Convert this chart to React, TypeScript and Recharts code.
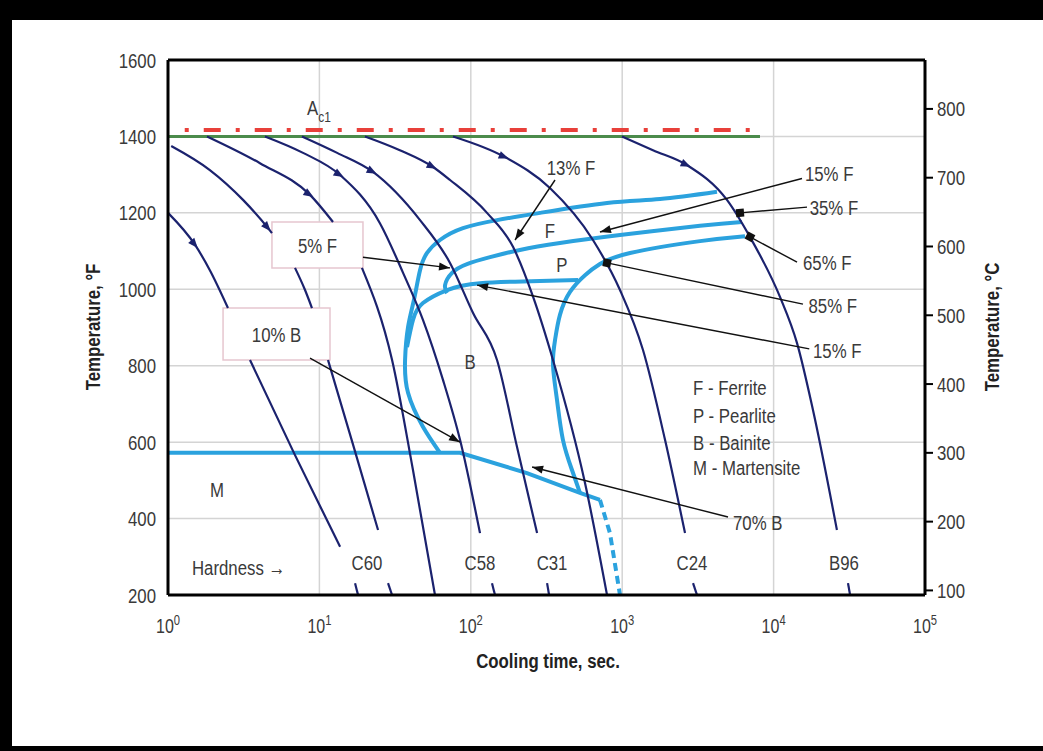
import React from 'react';
import {
  ComposedChart,
  Line,
  XAxis,
  YAxis,
  CartesianGrid,
  ReferenceLine,
  ReferenceArea,
  ReferenceDot,
} from 'recharts';

type P = [number, number];

const SANS = "'Liberation Sans', Arial, Helvetica, sans-serif";
const NAVY = '#1b226e';
const BLUE = '#2ba2de';
const INK = '#3a3a3a';

// ---- axes ----
const timeTicks = [1, 10, 100, 1000, 10000, 100000];
const tempFTicks = [200, 400, 600, 800, 1000, 1200, 1400, 1600];
const tempCTicks = [100, 200, 300, 400, 500, 600, 700, 800];

// ---- cooling curves (time s, temperature °F), split where hidden by boxes / labels ----
const coolA: P[][] = [
  [[1, 1200], [1.51, 1116], [1.89, 1050], [2.49, 951]],
  [[3.48, 815], [6.9, 566], [13.7, 326]],
  [[17.2, 231], [18, 200]],
];
const coolB: P[][] = [
  [[1.05, 1375], [1.89, 1312], [3.13, 1234], [4.58, 1160], [4.86, 1147]],
  [[6.9, 1056], [8.0, 1000], [8.93, 951]],
  [[11.4, 815], [16.7, 593], [24.4, 370]],
  [[28.4, 231], [30.2, 200]],
];
const coolC: P[][] = [
  [[1.81, 1400], [4.05, 1330], [8.67, 1247], [12.3, 1176]],
  [[19.1, 1056], [30.2, 815], [41.5, 527], [58, 200]],
];
const coolD: P[][] = [
  [[4.37, 1400], [7.8, 1357], [13.7, 1299], [25.1, 1173], [35.7, 1043], [48.3, 920], [65.5, 763], [84.9, 606], [115, 362]],
  [[138, 231], [144.5, 200]],
];
const coolE: P[][] = [
  [[7.67, 1400], [13.1, 1357], [22.6, 1307], [46.2, 1181], [72.9, 1069], [103.5, 938], [149, 815], [202, 587], [274, 362]],
  [[319, 231], [329, 200]],
];
const coolF: P[][] = [
  [[20, 1400], [34, 1364], [56.3, 1320], [72.9, 1286], [128, 1200], [190, 1111], [258, 980], [349, 815], [568, 493], [794, 200]],
];
const coolG: P[][] = [
  [[76.3, 1400], [168, 1346], [333, 1265], [641, 1129], [967, 998], [1372, 841], [1918, 606], [2600, 362]],
  [[2937, 231], [3120, 200]],
];
const coolH: P[][] = [
  [[997, 1400], [1597, 1364], [2680, 1325], [4920, 1234], [6980, 1137], [11020, 980], [14280, 859], [18200, 684], [26200, 370]],
  [[31000, 231], [32000, 200]],
];
const coolingCurves = [coolA, coolB, coolC, coolD, coolE, coolF, coolG, coolH];

// direction arrows on the cooling curves (from -> to, arrow at "to")
const flowArrows: [P, P][] = [
  [[1, 1200], [1.51, 1116]],
  [[3.13, 1234], [4.58, 1160]],
  [[4.05, 1330], [8.67, 1247]],
  [[7.8, 1357], [13.7, 1299]],
  [[13.1, 1357], [22.6, 1307]],
  [[34, 1364], [56.3, 1320]],
  [[76.3, 1400], [168, 1346]],
  [[1597, 1364], [2680, 1325]],
];

// ---- transformation curves ----
const msLine: P[] = [[1, 572], [84.9, 572], [235, 519], [526, 467], [713, 449]];
const msDashed: P[] = [[713, 449], [830, 362], [967, 200]];
const ferriteStart: P[] = [
  [4227, 1255], [1778, 1236], [794, 1226], [286, 1200], [149, 1181], [88.8, 1160], [62.6, 1129], [51.4, 1095],
  [46.2, 1050], [42.1, 972], [38.5, 901], [36.8, 815], [38.5, 729], [48.3, 640], [62.6, 572],
];
const pearliteStart: P[] = [
  [6180, 1176], [3266, 1166], [967, 1142], [388, 1121], [211, 1103], [134, 1084], [94.4, 1066], [75.2, 1043], [67.6, 1011], [69.7, 990],
];
const pearliteLow: P[] = [[511, 1024], [286, 1022], [115, 1016], [69.7, 998], [48.3, 964], [41.5, 920], [37.9, 849]];
const pearliteFinish: P[] = [
  [6470, 1139], [3266, 1126], [1127, 1095], [713, 1066], [568, 1037], [452, 993], [388, 933], [360, 867], [349, 802],
  [371, 710], [406, 606], [466, 527], [526, 467],
];

// Ac1 and 1400 °F lines
const ac1Line: P[] = [[1.29, 1417], [8130, 1417]];
const austLine: P[] = [[1, 1400], [8130, 1400]];

// ---- annotations ----
const pointers: { from: P; to: P; end: 'arrow' | 'dot' }[] = [
  { from: [360, 1286], to: [196, 1129], end: 'arrow' },
  { from: [15400, 1290], to: [713, 1150], end: 'arrow' },
  { from: [16630, 1215], to: [6000, 1200], end: 'dot' },
  { from: [14280, 1071], to: [6980, 1137], end: 'dot' },
  { from: [15630, 961], to: [794, 1069], end: 'dot' },
  { from: [17200, 844], to: [110, 1011], end: 'arrow' },
  { from: [19.4, 1084], to: [72.9, 1056], end: 'arrow' },
  { from: [8.67, 820], to: [84.9, 600], end: 'arrow' },
  { from: [5000, 404], to: [254, 535], end: 'arrow' },
];
const notes: { s: string; at: P; anchor: string }[] = [
  { s: '13% F', at: [459, 1320], anchor: 'middle' },
  { s: '15% F', at: [16110, 1304], anchor: 'start' },
  { s: '35% F', at: [17300, 1215], anchor: 'start' },
  { s: '65% F', at: [15630, 1071], anchor: 'start' },
  { s: '85% F', at: [17000, 959], anchor: 'start' },
  { s: '15% F', at: [18200, 841], anchor: 'start' },
  { s: '70% B', at: [5390, 391], anchor: 'start' },
  { s: 'F', at: [333, 1155], anchor: 'middle' },
  { s: 'P', at: [400, 1064], anchor: 'middle' },
  { s: 'B', at: [98.8, 810], anchor: 'middle' },
  { s: 'M', at: [2.11, 475], anchor: 'middle' },
  { s: 'F  - Ferrite', at: [2937, 744], anchor: 'start' },
  { s: 'P  - Pearlite', at: [2937, 671], anchor: 'start' },
  { s: 'B  - Bainite', at: [2937, 600], anchor: 'start' },
  { s: 'M - Martensite', at: [2937, 535], anchor: 'start' },
  { s: 'Hardness \u2192', at: [1.44, 271], anchor: 'start' },
  { s: 'C60', at: [20.6, 286], anchor: 'middle' },
  { s: 'C58', at: [115, 286], anchor: 'middle' },
  { s: 'C31', at: [344, 286], anchor: 'middle' },
  { s: 'C24', at: [2891, 286], anchor: 'middle' },
  { s: 'B96', at: [29170, 286], anchor: 'middle' },
];
const boxes: { s: string; x: P; y: P }[] = [
  { s: '5% F', x: [4.86, 19.4], y: [1056, 1176] },
  { s: '10% B', x: [2.31, 11.75], y: [815, 951] },
];
const ac1Label: P = [8.28, 1477];

// ---- helpers ----
const rows = (pts: P[]) => pts.map(([t, T]) => ({ t, T }));

// narrow (condensed) text: regular sans squeezed horizontally
const NT = (props: {
  x: number; y: number; anchor?: string; size?: number; bold?: boolean; rotate?: number; fill?: string; children: React.ReactNode;
}) => {
  const { x, y, anchor = 'start', size = 21, bold = false, rotate = 0, fill = INK, children } = props;
  return (
    <g transform={`translate(${x},${y})${rotate ? ` rotate(${rotate})` : ''} scale(0.8,1)`}>
      <text x={0} y={0} dy="0.36em" textAnchor={anchor as any} fontSize={size} fontWeight={bold ? 'bold' : 'normal'} fontFamily={SANS} fill={fill}>
        {children}
      </text>
    </g>
  );
};

const arrowHead = (x: number, y: number, ang: number, len: number, half: number, fill: string) => {
  const bx = x - len * Math.cos(ang);
  const by = y - len * Math.sin(ang);
  const px = -Math.sin(ang) * half;
  const py = Math.cos(ang) * half;
  return <polygon points={`${x},${y} ${bx + px},${by + py} ${bx - px},${by - py}`} fill={fill} />;
};

const pointerShape = (end: 'arrow' | 'dot') => (p: any) => {
  const { x1, y1, x2, y2 } = p;
  const ang = Math.atan2(y2 - y1, x2 - x1);
  return (
    <g>
      <line x1={x1} y1={y1} x2={x2} y2={y2} stroke="#111" strokeWidth={1.4} />
      {end === 'arrow'
        ? arrowHead(x2, y2, ang, 11, 4, '#111')
        : <rect x={x2 - 4} y={y2 - 4} width={8} height={8} fill="#111" transform={`rotate(${(ang * 180) / Math.PI} ${x2} ${y2})`} />}
    </g>
  );
};

const flowShape = (p: any) => {
  const { x1, y1, x2, y2 } = p;
  const ang = Math.atan2(y2 - y1, x2 - x1);
  return arrowHead(x2 + 4 * Math.cos(ang), y2 + 4 * Math.sin(ang), ang, 10, 4, NAVY);
};

const textShape = (s: string, anchor: string) => (p: any) => (
  <NT x={p.cx} y={p.cy} anchor={anchor}>{s}</NT>
);

const TimeTick = (props: any) => {
  const { x, y, payload } = props;
  const n = Math.round(Math.log10(payload.value));
  return (
    <NT x={x} y={y + 31} anchor="middle" size={20}>
      10<tspan dy={-8} fontSize={14}>{n}</tspan>
    </NT>
  );
};
const LeftTick = (props: any) => <NT x={props.x} y={props.y} anchor="end">{props.payload.value}</NT>;
const RightTick = (props: any) => <NT x={props.x} y={props.y} anchor="start">{props.payload.value}</NT>;

export default function App() {
  return (
    <div style={{ position: 'absolute', left: 0, top: 0, width: 1043, height: 751, background: '#fff', overflow: 'hidden' }}>
      <ComposedChart width={1043} height={751} margin={{ top: 60, right: 58, bottom: 126, left: 108 }}>
        <CartesianGrid stroke="#d4d4d4" strokeWidth={1.5} />
        <XAxis
          dataKey="t"
          type="number"
          scale="log"
          domain={[1, 100000]}
          ticks={timeTicks}
          allowDataOverflow
          interval={0}
          height={30}
          axisLine={{ stroke: '#000', strokeWidth: 3 }}
          tickLine={false}
          tickSize={0}
          tickMargin={0}
          tick={<TimeTick />}
          label={() => (
            <NT x={548} y={660} anchor="middle" bold fill="#222">Cooling time, sec.</NT>
          )}
        />
        <YAxis
          type="number"
          domain={[200, 1600]}
          ticks={tempFTicks}
          allowDataOverflow
          interval={0}
          width={60}
          axisLine={{ stroke: '#000', strokeWidth: 3 }}
          tickLine={false}
          tickSize={0}
          tickMargin={12}
          tick={<LeftTick />}
          label={() => (
            <NT x={92} y={327} rotate={-90} anchor="middle" bold fill="#222">Temperature, °F</NT>
          )}
        />
        <YAxis
          yAxisId="C"
          orientation="right"
          type="number"
          domain={[93.333, 871.111]}
          ticks={tempCTicks}
          allowDataOverflow
          interval={0}
          width={60}
          axisLine={{ stroke: '#000', strokeWidth: 3 }}
          tickLine={{ stroke: '#000', strokeWidth: 2 }}
          tickSize={8}
          tickMargin={4}
          tick={<RightTick />}
          label={() => (
            <NT x={991} y={327} rotate={-90} anchor="middle" bold fill="#222">Temperature, °C</NT>
          )}
        />
        <ReferenceLine y={1600} stroke="#000" strokeWidth={3} />

        <ReferenceLine segment={[{ x: austLine[0][0], y: austLine[0][1] }, { x: austLine[1][0], y: austLine[1][1] }]} stroke="#4b8b4b" strokeWidth={3} />
        <ReferenceLine segment={[{ x: ac1Line[0][0], y: ac1Line[0][1] }, { x: ac1Line[1][0], y: ac1Line[1][1] }]} stroke="#e8403a" strokeWidth={4} strokeDasharray="4 15 17 15" />

        {/* transformation curves */}
        <Line data={rows(msLine)} dataKey="T" type="linear" stroke={BLUE} strokeWidth={4} dot={false} isAnimationActive={false} />
        <Line data={rows(msDashed)} dataKey="T" type="linear" stroke={BLUE} strokeWidth={4} strokeDasharray="8 5" dot={false} isAnimationActive={false} />
        <Line data={rows(ferriteStart)} dataKey="T" type="natural" stroke={BLUE} strokeWidth={4} dot={false} isAnimationActive={false} />
        <Line data={rows(pearliteStart)} dataKey="T" type="natural" stroke={BLUE} strokeWidth={4} dot={false} isAnimationActive={false} />
        <Line data={rows(pearliteLow)} dataKey="T" type="natural" stroke={BLUE} strokeWidth={4} dot={false} isAnimationActive={false} />
        <Line data={rows(pearliteFinish)} dataKey="T" type="natural" stroke={BLUE} strokeWidth={4} dot={false} isAnimationActive={false} />

        {/* cooling curves */}
        {coolingCurves.map((curve, ci) =>
          curve.map((seg, si) => (
            <Line
              key={`c${ci}-${si}`}
              data={rows(seg)}
              dataKey="T"
              type={seg.length > 2 ? 'monotone' : 'linear'}
              stroke={NAVY}
              strokeWidth={2.2}
              dot={false}
              isAnimationActive={false}
            />
          )),
        )}
        {flowArrows.map(([a, b], i) => (
          <ReferenceLine key={`f${i}`} segment={[{ x: a[0], y: a[1] }, { x: b[0], y: b[1] }]} shape={flowShape} />
        ))}

        {/* boxes */}
        {boxes.map((b, i) => (
          <ReferenceArea key={`b${i}`} x1={b.x[0]} x2={b.x[1]} y1={b.y[0]} y2={b.y[1]} fill="#fff" fillOpacity={1} stroke="#e6c6cf" strokeWidth={1.5} />
        ))}
        {boxes.map((b, i) => (
          <ReferenceDot
            key={`bt${i}`}
            x={Math.sqrt(b.x[0] * b.x[1])}
            y={(b.y[0] + b.y[1]) / 2}
            r={0}
            shape={textShape(b.s, 'middle')}
          />
        ))}

        {/* pointers */}
        {pointers.map((p, i) => (
          <ReferenceLine key={`p${i}`} segment={[{ x: p.from[0], y: p.from[1] }, { x: p.to[0], y: p.to[1] }]} shape={pointerShape(p.end)} />
        ))}

        {/* notes */}
        {notes.map((n, i) => (
          <ReferenceDot key={`n${i}`} x={n.at[0]} y={n.at[1]} r={0} shape={textShape(n.s, n.anchor)} />
        ))}
        <ReferenceDot
          x={ac1Label[0]}
          y={ac1Label[1]}
          r={0}
          shape={(p: any) => (
            <NT x={p.cx} y={p.cy}>
              A<tspan dy={7} fontSize={15}>c1</tspan>
            </NT>
          )}
        />
      </ComposedChart>
      <div style={{ position: 'absolute', left: 0, top: 0, width: 1043, height: 20, background: '#000' }} />
      <div style={{ position: 'absolute', left: 0, top: 0, width: 12, height: 751, background: '#000' }} />
      <div style={{ position: 'absolute', left: 0, top: 746, width: 1043, height: 5, background: '#000' }} />
    </div>
  );
}
